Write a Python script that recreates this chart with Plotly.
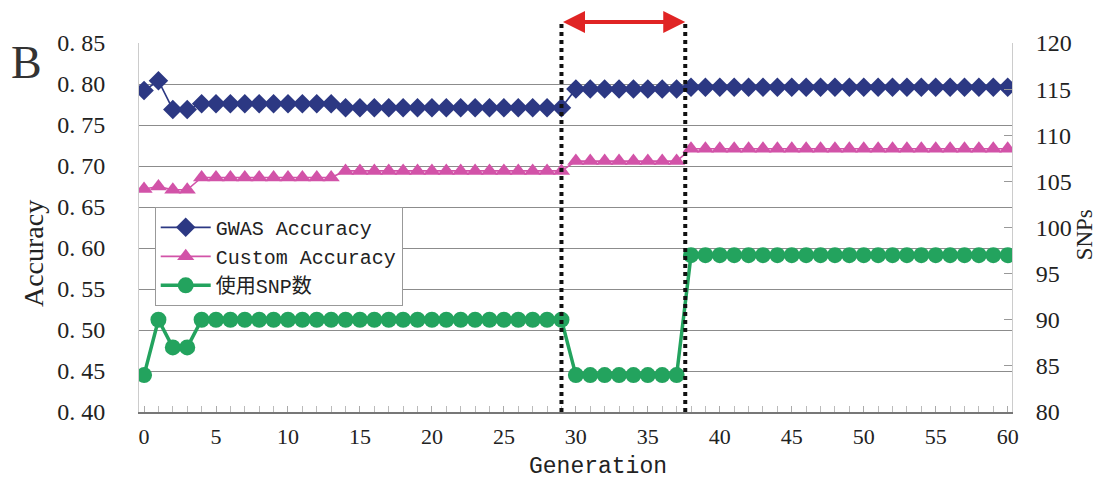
import plotly.graph_objects as go

generations = list(range(61))

gwas_accuracy = [
    0.792, 0.804, 0.769, 0.769, 0.776, 0.776, 0.776, 0.776, 0.776, 0.776,
    0.776, 0.776, 0.776, 0.776, 0.771, 0.771, 0.771, 0.771, 0.771, 0.771,
    0.771, 0.771, 0.771, 0.771, 0.771, 0.771, 0.771, 0.771, 0.771, 0.771,
    0.794, 0.794, 0.794, 0.794, 0.794, 0.794, 0.794, 0.794, 0.796, 0.796,
    0.796, 0.796, 0.796, 0.796, 0.796, 0.796, 0.796, 0.796, 0.796, 0.796,
    0.796, 0.796, 0.796, 0.796, 0.796, 0.796, 0.796, 0.796, 0.796, 0.796,
    0.796,
]

custom_accuracy = [
    0.672, 0.675, 0.671, 0.671, 0.686, 0.686, 0.686, 0.686, 0.686, 0.686,
    0.686, 0.686, 0.686, 0.686, 0.694, 0.694, 0.694, 0.694, 0.694, 0.694,
    0.694, 0.694, 0.694, 0.694, 0.694, 0.694, 0.694, 0.694, 0.694, 0.694,
    0.706, 0.706, 0.706, 0.706, 0.706, 0.706, 0.706, 0.706, 0.721, 0.721,
    0.721, 0.721, 0.721, 0.721, 0.721, 0.721, 0.721, 0.721, 0.721, 0.721,
    0.721, 0.721, 0.721, 0.721, 0.721, 0.721, 0.721, 0.721, 0.721, 0.721,
    0.721,
]

snp_count = [
    84, 90, 87, 87, 90, 90, 90, 90, 90, 90,
    90, 90, 90, 90, 90, 90, 90, 90, 90, 90,
    90, 90, 90, 90, 90, 90, 90, 90, 90, 90,
    84, 84, 84, 84, 84, 84, 84, 84, 97, 97,
    97, 97, 97, 97, 97, 97, 97, 97, 97, 97,
    97, 97, 97, 97, 97, 97, 97, 97, 97, 97,
    97,
]

series_names = ["GWAS Accuracy", "Custom Accuracy", "使用SNP数"]
highlight_gens = [29, 37.6]

acc_tickvals = [0.40, 0.45, 0.50, 0.55, 0.60, 0.65, 0.70, 0.75, 0.80, 0.85]
acc_ticktext = ["0. " + f"{v:.2f}"[2:] for v in acc_tickvals]
snp_tickvals = [80, 85, 90, 95, 100, 105, 110, 115, 120]
x_tickvals = [0, 5, 10, 15, 20, 25, 30, 35, 40, 45, 50, 55, 60]

NAVY = "#2c3883"
PINK = "#d253a8"
GREEN = "#23a35e"
GRID = "#8c8c8c"
TXT = "#222222"
SERIF = "Liberation Serif, DejaVu Serif, serif"
MONO = "Liberation Mono, Noto Sans CJK JP, monospace"

fig = go.Figure()
fig.add_trace(go.Scatter(
    x=generations, y=gwas_accuracy, name=series_names[0], mode="lines+markers",
    line=dict(color=NAVY, width=1.6),
    marker=dict(symbol="diamond", size=15, color=NAVY),
))
fig.add_trace(go.Scatter(
    x=generations, y=custom_accuracy, name=series_names[1], mode="lines+markers",
    line=dict(color=PINK, width=1.6),
    marker=dict(symbol="triangle-up", size=15, color=PINK),
))
fig.add_trace(go.Scatter(
    x=generations, y=snp_count, name=series_names[2], mode="lines+markers",
    yaxis="y2",
    line=dict(color=GREEN, width=3.5),
    marker=dict(symbol="circle", size=16, color=GREEN),
))

shapes = []
for g in highlight_gens:
    shapes.append(dict(type="line", xref="x", yref="paper", x0=g, x1=g,
                       y0=0, y1=1.057, layer="above",
                       line=dict(color="#111111", width=4, dash="dot")))

annotations = [
    dict(x=highlight_gens[1], y=1.057, xref="x", yref="paper",
         ax=highlight_gens[0], ay=0, axref="x", ayref="pixel",
         text="", showarrow=True, arrowhead=2, arrowside="end+start",
         arrowsize=1.1, arrowwidth=4, arrowcolor="#e02424"),
    dict(x=-0.129, y=0.9485, xref="paper", yref="paper", text="B",
         xanchor="center", yanchor="middle",
         showarrow=False, font=dict(family=SERIF, size=46, color="#333333")),
    dict(x=-0.1214, y=0.428, xref="paper", yref="paper", text="Accuracy",
         textangle=-90, xanchor="center", yanchor="middle",
         showarrow=False, font=dict(family=SERIF, size=28, color=TXT)),
    dict(x=1.083, y=0.48, xref="paper", yref="paper", text="SNPs",
         textangle=-90, xanchor="center", yanchor="middle",
         showarrow=False, font=dict(family=SERIF, size=23, color=TXT)),
    dict(x=0.526, y=-0.1895, xref="paper", yref="paper", text="Generation",
         xanchor="center", yanchor="bottom",
         showarrow=False, font=dict(family=MONO, size=23, color=TXT)),
]

fig.update_layout(
    width=1106, height=482,
    margin=dict(l=139, r=94, t=43, b=70),
    paper_bgcolor="white", plot_bgcolor="white",
    showlegend=True,
    legend=dict(x=0.018, y=0.556, xanchor="left", yanchor="top",
                bgcolor="white", bordercolor="#999999", borderwidth=1,
                font=dict(family=MONO, size=20, color=TXT),
                itemwidth=50, tracegroupgap=0),
    xaxis=dict(
        range=[-0.35, 60.3], tickvals=x_tickvals, automargin=False,
        ticks="inside", ticklen=6, tickcolor="#aaaaaa",
        minor=dict(dtick=1, ticks="inside", ticklen=6, tickcolor="#bbbbbb"),
        showgrid=False, zeroline=False,
        showline=True, linecolor="#777777", linewidth=1.5,
        tickfont=dict(family=SERIF, size=22, color=TXT),
        ticklabelstandoff=4,
    ),
    yaxis=dict(
        range=[0.40, 0.85], tickvals=acc_tickvals, ticktext=acc_ticktext,
        automargin=False,
        showgrid=True, gridcolor=GRID, gridwidth=1, zeroline=False,
        showline=True, linecolor="#cccccc", mirror=True,
        ticks="", ticklabelstandoff=28,
        tickfont=dict(family=SERIF, size=24, color=TXT),
    ),
    yaxis2=dict(
        range=[80, 120], tickvals=snp_tickvals, overlaying="y", side="right",
        automargin=False,
        showgrid=False, zeroline=False,
        showline=True, linecolor="#cccccc",
        ticks="inside", ticklen=8, tickcolor="#999999",
        ticklabelstandoff=18,
        tickfont=dict(family=SERIF, size=24, color=TXT),
    ),
    shapes=shapes,
    annotations=annotations,
)

fig.write_html("out.html", config={"displayModeBar": False},
               post_script="document.body.style.margin='0';")
